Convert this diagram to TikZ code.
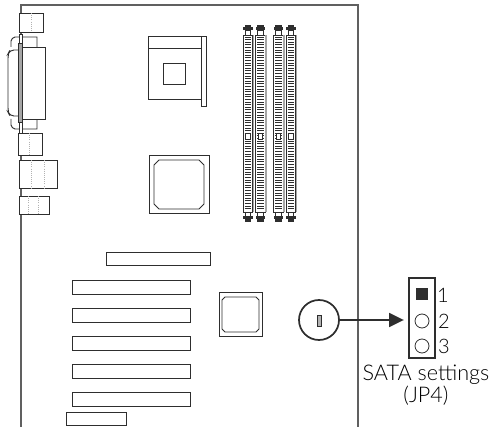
\documentclass[tikz,border=0pt]{standalone}
\usepackage{fontspec}
\setmainfont{Lato}[UprightFont=* Light]
\usetikzlibrary{arrows.meta}
\definecolor{inkdark}{gray}{0.18}
\tikzset{
    board/.style={draw=gray!75!black, line width=0.9pt},
    part/.style={draw=inkdark, line width=0.7pt},
    hidden/.style={draw=gray!60, line width=0.6pt, densely dotted},
    rung/.style={draw=inkdark, line width=0.65pt},
    pinlabel/.style={font=\fontsize{15}{15}\selectfont, text=black, inner sep=0pt},
    caption/.style={font=\fontsize{16.2}{16.5}\selectfont, text=black, inner sep=0pt, align=center}
}
\begin{document}
\begin{tikzpicture}[x=0.75pt, y=-0.75pt]
    \useasboundingbox (0,0) rectangle (492,427);
    % Contorno de la placa.
    \draw[board] (21,427) -- (21,5) -- (358,5) -- (358,427);
    % Conectores del panel trasero.
    \filldraw[part, fill=white] (19,13) rectangle (43,32);
    \draw[hidden] (31,13) -- (31,32);
    \filldraw[part, fill=white] (11,47) -- (11,41) to[bend left=30] (15,37) -- (37,37) -- (37,47);
    \filldraw[part, fill=white] (11,119) -- (11,125) to[bend right=30] (15,129) -- (37,129) -- (37,119);
    \filldraw[part, fill=white, rounded corners=3pt] (19,50) -- (10,50) -- (8,54) -- (8,112) -- (10,116) -- (19,116);
    \filldraw[part, fill=white] (22,47) rectangle (45.5,119);
    \filldraw[part, fill=white] (19,34) rectangle (22.5,133);
    \filldraw[part, fill=gray!70] (18.5,43) rectangle (22.5,122);
    \filldraw[part, fill=white] (18,133) rectangle (42,155);
    \draw[hidden] (29.5,133) -- (29.5,155);
    \filldraw[part, fill=white] (19,160) rectangle (57,188);
    \draw[hidden] (31.5,160) -- (31.5,188);
    \draw[hidden] (44.5,160) -- (44.5,188);
    \filldraw[part, fill=white] (19,196) rectangle (49,214);
    \draw[hidden] (28.5,196) -- (28.5,214);
    \draw[hidden] (38.5,196) -- (38.5,214);
    % Zócalo del procesador.
    \draw[part] (148,36) rectangle (201,99);
    \draw[part] (148,48) -- (201,48);
    \draw[part] (163,63) rectangle (185,84);
    \draw[part] (201,36) -- (206,36) -- (206,106) -- (201,106) -- cycle;
    % Chips.
    \draw[part] (149,155) rectangle (209,213);
    \draw[part] (159,160) -- (199,160) -- (204,165) -- (204,204) -- (199,209) -- (159,209) -- (154,204) -- (154,165) -- cycle;
    \draw[part] (219,292) rectangle (262,336);
    \draw[part] (225,297) -- (256,297) -- (259,300) -- (259,329) -- (256,332) -- (225,332) -- (222,329) -- (222,300) -- cycle;
    % Ranuras de memoria.
    \foreach \slotx in {243,255.5,273.5,286} {
        \draw[part] (\slotx,35) rectangle ++(9.5,177);
        \draw[draw=gray!70, line width=0.9pt] (\slotx+10.5,35) -- ++(0,177);
        \foreach \rungy in {37,39.6,...,210} {
            \draw[rung] (\slotx+1.5,\rungy) -- ++(6.5,0);
        }
        \filldraw[part, fill=white] (\slotx+2.5,133) rectangle ++(4.5,6);
        \fill[inkdark] (\slotx+1.5,25) rectangle ++(6.5,6);
        \fill[inkdark] (\slotx,27) rectangle ++(9.5,3);
        \draw[part] (\slotx+2,31) -- ++(0,4);
        \draw[part] (\slotx+7.5,31) -- ++(0,4);
        \fill[inkdark] (\slotx+1.5,216) rectangle ++(6.5,6);
        \fill[inkdark] (\slotx,216) rectangle ++(9.5,3);
        \draw[part] (\slotx+2,212) -- ++(0,4);
        \draw[part] (\slotx+7.5,212) -- ++(0,4);
    }
    % Ranuras de expansión.
    \draw[part] (106,252) rectangle (210,265);
    \foreach \pcitop in {280,308,336,364,392} {
        \draw[part] (72,\pcitop) rectangle (190,\pcitop+14);
    }
    \draw[part] (66,412) rectangle (126,425);
    % Puente JP4.
    \node[circle, draw=inkdark, line width=1.3pt, minimum size=30pt, inner sep=0pt] (jpcircle) at (319,320) {};
    \filldraw[part, fill=gray!60] (317,315) rectangle (321,326);
    \node[draw=inkdark, line width=0.8pt, minimum width=19.5pt, minimum height=60pt, inner sep=0pt] (jpbox) at (422,318) {};
    \node[fill=inkdark, minimum size=9pt, inner sep=0pt] (pinone) at (422,294) {};
    \node[circle, draw=inkdark, line width=0.6pt, minimum size=10.5pt, inner sep=0pt] (pintwo) at (422,321) {};
    \node[circle, draw=inkdark, line width=0.6pt, minimum size=10.5pt, inner sep=0pt] (pinthree) at (422,346) {};
    \node[pinlabel] (labelone) at (443,295) {1};
    \node[pinlabel] (labeltwo) at (444,321) {2};
    \node[pinlabel] (labelthree) at (444,346) {3};
    \draw[-{Stealth[length=11pt, width=10.5pt, inset=0pt]}, draw=inkdark, fill=inkdark, line width=1.1pt, shorten >=3.5pt] (jpcircle.east) -- (jpbox.west |- jpcircle.east);
    \node[caption, anchor=north] (satalabel) at (426,365) {SATA settings\\(JP4)};
\end{tikzpicture}
\end{document}
